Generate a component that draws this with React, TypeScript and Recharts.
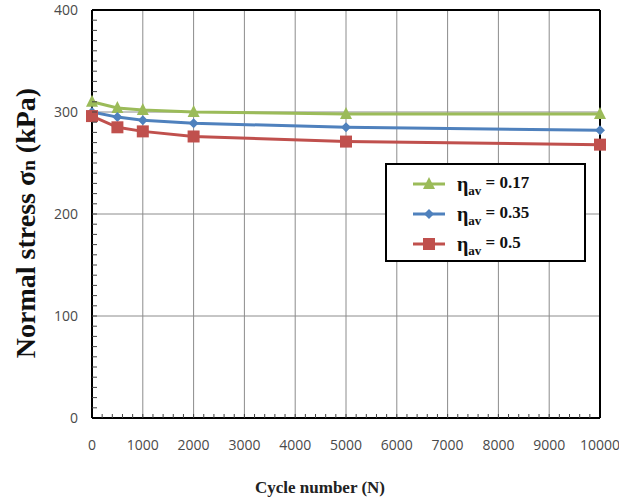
import { LineChart, Line, XAxis, YAxis, ReferenceLine } from "recharts";

const cycles = [0, 500, 1000, 2000, 5000, 10000];
const eta017 = [310, 304, 302, 300, 298, 298];
const eta035 = [300, 295, 292, 289, 285, 282];
const eta050 = [296, 285, 281, 276, 271, 268];

const xMajor = [0, 1000, 2000, 3000, 4000, 5000, 6000, 7000, 8000, 9000, 10000];
const yMajor = [0, 100, 200, 300, 400];
const xMinor = Array.from({ length: 51 }, (_, i) => i * 200);
const yMinor = Array.from({ length: 41 }, (_, i) => i * 10);

const GREEN = "#9BBB59";
const BLUE = "#4F81BD";
const RED = "#C0504D";

const data = cycles.map((n, i) => ({ n, a: eta017[i], b: eta035[i], c: eta050[i] }));

const Triangle = (props: any) => {
  const { cx, cy } = props;
  if (cx == null || cy == null) return null;
  return <polygon points={`${cx},${cy - 7} ${cx - 6},${cy + 5} ${cx + 6},${cy + 5}`} fill={GREEN} />;
};
const Diamond = (props: any) => {
  const { cx, cy } = props;
  if (cx == null || cy == null) return null;
  return <polygon points={`${cx},${cy - 5} ${cx + 5},${cy} ${cx},${cy + 5} ${cx - 5},${cy}`} fill={BLUE} />;
};
const Square = (props: any) => {
  const { cx, cy } = props;
  if (cx == null || cy == null) return null;
  return <rect x={cx - 6} y={cy - 6} width={12} height={12} fill={RED} />;
};

const serif = "'Liberation Serif', 'Times New Roman', serif";
const sans = "'Open Sans', sans-serif";
const X_MARGIN = 22;
const Y_MARGIN = 14;

// every tick gets a short inward mark on the axis; only the major ones get a label
const XTick = (props: any) => {
  const { x, y, payload } = props;
  const axisY = y - X_MARGIN;
  const major = payload.value % 1000 === 0;
  return (
    <g>
      {payload.value > 0 && payload.value < 10000 && (
        <line x1={x} x2={x} y1={axisY - 4} y2={axisY} stroke="#444" strokeWidth={1} />
      )}
      {major && (
        <text x={x} y={y} dy="0.71em" textAnchor="middle" fill="#4a4a4a" fontSize={14} fontFamily={sans}>
          {payload.value}
        </text>
      )}
    </g>
  );
};
const YTick = (props: any) => {
  const { x, y, payload } = props;
  const axisX = x + Y_MARGIN;
  const major = payload.value % 100 === 0;
  return (
    <g>
      {payload.value > 0 && payload.value < 400 && (
        <line x1={axisX} x2={axisX + 5} y1={y} y2={y} stroke="#444" strokeWidth={1} />
      )}
      {major && (
        <text x={x} y={y} dy="0.355em" textAnchor="end" fill="#4a4a4a" fontSize={14} fontFamily={sans}>
          {payload.value}
        </text>
      )}
    </g>
  );
};

const legendItems = [
  { label: "0.17", color: GREEN, Mark: Triangle },
  { label: "0.35", color: BLUE, Mark: Diamond },
  { label: "0.5", color: RED, Mark: Square },
];

export default function App() {
  return (
    <div style={{ position: "absolute", left: 0, top: 0, width: 619, height: 501, background: "#fff" }}>
      <LineChart width={619} height={501} data={data} margin={{ top: 10, right: 19, left: 0, bottom: 0 }}>
        <XAxis
          dataKey="n"
          type="number"
          domain={[0, 10000]}
          ticks={xMinor}
          interval={0}
          tickLine={false}
          tickSize={0}
          axisLine={{ stroke: "#000", strokeWidth: 2 }}
          tick={<XTick />}
          tickMargin={X_MARGIN}
          height={83}
        />
        <YAxis
          type="number"
          domain={[0, 400]}
          ticks={yMinor}
          interval={0}
          tickLine={false}
          tickSize={0}
          axisLine={{ stroke: "#000", strokeWidth: 2 }}
          tick={<YTick />}
          tickMargin={Y_MARGIN}
          width={92}
        />
        {xMajor.slice(1, -1).map((v) => (
          <ReferenceLine key={"x" + v} x={v} stroke="#8c8c8c" strokeWidth={1} />
        ))}
        {yMajor.slice(1, -1).map((v) => (
          <ReferenceLine key={"y" + v} y={v} stroke="#8c8c8c" strokeWidth={1} />
        ))}
        <ReferenceLine y={400} stroke="#000" strokeWidth={2} />
        <ReferenceLine x={10000} stroke="#000" strokeWidth={2} />
        <Line dataKey="a" stroke={GREEN} strokeWidth={3} dot={<Triangle />} activeDot={false} isAnimationActive={false} />
        <Line dataKey="b" stroke={BLUE} strokeWidth={3} dot={<Diamond />} activeDot={false} isAnimationActive={false} />
        <Line dataKey="c" stroke={RED} strokeWidth={3} dot={<Square />} activeDot={false} isAnimationActive={false} />
      </LineChart>

      <div
        style={{
          position: "absolute",
          left: 26,
          top: 223,
          transform: "translate(-50%, -50%) rotate(-90deg)",
          whiteSpace: "nowrap",
          fontFamily: serif,
          fontWeight: "bold",
          fontSize: 28,
          color: "#111",
        }}
      >
        Normal stress σ<sub style={{ fontSize: 19, verticalAlign: "baseline" }}>n</sub> (kPa)
      </div>

      <div
        style={{
          position: "absolute",
          left: 320,
          top: 488,
          transform: "translate(-50%, -50%)",
          whiteSpace: "nowrap",
          fontFamily: serif,
          fontWeight: "bold",
          fontSize: 17,
          color: "#222",
        }}
      >
        Cycle number (N)
      </div>

      <div
        style={{
          position: "absolute",
          left: 385,
          top: 163,
          width: 197,
          height: 95,
          border: "2px solid #000",
          background: "#fff",
          fontFamily: serif,
          fontWeight: "bold",
          fontSize: 17,
          color: "#111",
        }}
      >
        {legendItems.map(({ label, color, Mark }, i) => (
          <div key={label} style={{ position: "absolute", left: 0, top: 6 + i * 30, height: 26, display: "flex", alignItems: "center" }}>
            <svg width={70} height={26}>
              <line x1={26} y1={13} x2={58} y2={13} stroke={color} strokeWidth={3} />
              <Mark cx={42} cy={13} />
            </svg>
            <span>
              <span style={{ fontSize: 20 }}>η</span>
              <span style={{ fontSize: 13, position: "relative", top: 4 }}>av</span>
              <span style={{ position: "relative", top: -3 }}> = {label}</span>
            </span>
          </div>
        ))}
      </div>
    </div>
  );
}
